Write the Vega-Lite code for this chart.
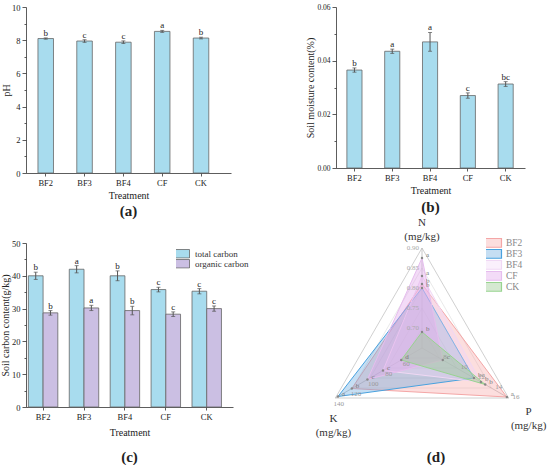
{
  "$schema": "https://vega.github.io/schema/vega-lite/v6.json",
  "padding": {"left": 0, "top": 3, "right": 0, "bottom": 0},
  "columns": 2,
  "spacing": {"row": 70, "column": 103},
  "bounds": "flush",
  "resolve": {"scale": {"fill": "independent", "stroke": "independent"}, "legend": {"fill": "independent", "stroke": "independent"}},
  "config": {
    "font": "Liberation Serif",
    "view": {"stroke": null},
    "axis": {"domainColor": "#333", "tickColor": "#333", "labelColor": "#222", "titleColor": "#222", "labelFontSize": 8.5, "titleFontSize": 10, "titleFontWeight": "normal", "labelFont": "Liberation Serif", "titleFont": "Liberation Serif", "grid": false, "domainWidth": 0.8, "tickWidth": 0.8, "labelOverlap": false},
    "legend": {"labelFont": "Liberation Serif"},
    "title": {"font": "Liberation Serif", "fontSize": 15, "fontWeight": "bold", "color": "#222"}
  },
  "datasets": {
    "ph": [
      {"treatment": "BF2", "pH": 8.1, "sd": 0.04, "letter": "b"},
      {"treatment": "BF3", "pH": 7.95, "sd": 0.08, "letter": "c"},
      {"treatment": "BF4", "pH": 7.88, "sd": 0.08, "letter": "c"},
      {"treatment": "CF", "pH": 8.53, "sd": 0.06, "letter": "a"},
      {"treatment": "CK", "pH": 8.13, "sd": 0.05, "letter": "b"}
    ],
    "moisture": [
      {"treatment": "BF2", "m": 0.0365, "sd": 0.0008, "letter": "b"},
      {"treatment": "BF3", "m": 0.0435, "sd": 0.0008, "letter": "a"},
      {"treatment": "BF4", "m": 0.047, "sd": 0.0035, "letter": "a"},
      {"treatment": "CF", "m": 0.027, "sd": 0.001, "letter": "c"},
      {"treatment": "CK", "m": 0.0313, "sd": 0.0009, "letter": "bc"}
    ],
    "carbon": [
      {"treatment": "BF2", "type": "total carbon", "value": 40.0, "sd": 1.1, "letter": "b"},
      {"treatment": "BF3", "type": "total carbon", "value": 42.0, "sd": 1.1, "letter": "a"},
      {"treatment": "BF4", "type": "total carbon", "value": 40.0, "sd": 1.5, "letter": "b"},
      {"treatment": "CF", "type": "total carbon", "value": 35.8, "sd": 0.7, "letter": "c"},
      {"treatment": "CK", "type": "total carbon", "value": 35.3, "sd": 0.8, "letter": "c"},
      {"treatment": "BF2", "type": "organic carbon", "value": 28.7, "sd": 0.7, "letter": "b"},
      {"treatment": "BF3", "type": "organic carbon", "value": 30.2, "sd": 0.8, "letter": "a"},
      {"treatment": "BF4", "type": "organic carbon", "value": 29.4, "sd": 1.3, "letter": "b"},
      {"treatment": "CF", "type": "organic carbon", "value": 28.3, "sd": 0.7, "letter": "c"},
      {"treatment": "CK", "type": "organic carbon", "value": 30.0, "sd": 0.8, "letter": "c"}
    ],
    "radar": [
      {"series": "BF2", "axis": "N", "value": 0.81, "letter": "b"},
      {"series": "BF2", "axis": "P", "value": 15.8, "letter": "a"},
      {"series": "BF2", "axis": "K", "value": 121, "letter": "b"},
      {"series": "BF3", "axis": "N", "value": 0.80, "letter": "b"},
      {"series": "BF3", "axis": "P", "value": 12.0, "letter": "bc"},
      {"series": "BF3", "axis": "K", "value": 137, "letter": "a"},
      {"series": "BF4", "axis": "N", "value": 0.83, "letter": "a"},
      {"series": "BF4", "axis": "P", "value": 12.8, "letter": "b"},
      {"series": "BF4", "axis": "K", "value": 85, "letter": "c"},
      {"series": "CF", "axis": "N", "value": 0.875, "letter": "a"},
      {"series": "CF", "axis": "P", "value": 8.4, "letter": "c"},
      {"series": "CF", "axis": "K", "value": 103, "letter": "c"},
      {"series": "CK", "axis": "N", "value": 0.69, "letter": "b"},
      {"series": "CK", "axis": "P", "value": 13.3, "letter": "b"},
      {"series": "CK", "axis": "K", "value": 64, "letter": "d"}
    ],
    "ticks": [
      {"axis": "N", "value": 0.70}, {"axis": "N", "value": 0.75}, {"axis": "N", "value": 0.80}, {"axis": "N", "value": 0.85}, {"axis": "N", "value": 0.90},
      {"axis": "P", "value": 8}, {"axis": "P", "value": 10}, {"axis": "P", "value": 12}, {"axis": "P", "value": 14}, {"axis": "P", "value": 16},
      {"axis": "K", "value": 60}, {"axis": "K", "value": 80}, {"axis": "K", "value": 100}, {"axis": "K", "value": 120}, {"axis": "K", "value": 140}
    ]
  },
  "concat": [
    {
      "width": 205, "height": 166,
      "data": {"name": "ph"},
      "transform": [{"calculate": "datum.pH + datum.sd", "as": "top"}],
      "title": {"text": "(a)", "orient": "bottom", "offset": 3},
      "encoding": {
        "x": {"field": "treatment", "type": "nominal", "title": "Treatment",
              "scale": {"paddingInner": 0.6, "paddingOuter": 0.44, "align": 0.35},
              "axis": {"labelAngle": 0, "tickSize": 3, "labelPadding": 2, "titlePadding": 4}}
      },
      "layer": [
        {"mark": {"type": "bar", "fill": "#a8dcee", "stroke": "#666", "strokeWidth": 0.8},
         "encoding": {"y": {"field": "pH", "type": "quantitative", "title": "pH", "scale": {"domain": [0, 10], "nice": false},
           "axis": {"values": [0,1,2,3,4,5,6,7,8,9,10], "tickCount": 50, "format": "d", "labelExpr": "datum.value % 2 === 0 ? datum.label : ''", "labelOverlap": false,
                    "tickSize": {"condition": {"test": "datum.value % 2 === 0", "value": 4}, "value": 2}, "titlePadding": 0}}}},
        {"mark": {"type": "errorbar", "ticks": {"size": 4}, "color": "#555"},
         "encoding": {"y": {"field": "pH", "type": "quantitative", "title": "pH"}, "yError": {"field": "sd"}}},
        {"mark": {"type": "text", "dy": -5, "fontSize": 9, "color": "#222"},
         "encoding": {"y": {"field": "top", "type": "quantitative", "title": "pH"}, "text": {"field": "letter"}}}
      ]
    },
    {
      "width": 189, "height": 161,
      "data": {"name": "moisture"},
      "transform": [{"calculate": "datum.m + datum.sd", "as": "top"}],
      "title": {"text": "(b)", "orient": "bottom", "offset": 4},
      "encoding": {
        "x": {"field": "treatment", "type": "nominal", "title": "Treatment",
              "scale": {"paddingInner": 0.6, "paddingOuter": 0.3, "align": 0.48},
              "axis": {"labelAngle": 0, "tickSize": 3, "labelPadding": 2, "titlePadding": 4}}
      },
      "layer": [
        {"mark": {"type": "bar", "fill": "#a8dcee", "stroke": "#666", "strokeWidth": 0.8},
         "encoding": {"y": {"field": "m", "type": "quantitative", "title": "Soil moisture content(%)", "scale": {"domain": [0, 0.06], "nice": false},
           "axis": {"values": [0,0.01,0.02,0.03,0.04,0.05,0.06], "tickCount": 50, "format": ".2f", "labelExpr": "round(datum.value*100) % 2 === 0 ? datum.label : ''", "labelOverlap": false,
                    "labelFontSize": 7.5, "tickSize": {"condition": {"test": "round(datum.value*100) % 2 === 0", "value": 4}, "value": 2}, "titlePadding": 1}}}},
        {"mark": {"type": "errorbar", "ticks": {"size": 4}, "color": "#555"},
         "encoding": {"y": {"field": "m", "type": "quantitative", "title": "Soil moisture content(%)"}, "yError": {"field": "sd"}}},
        {"mark": {"type": "text", "dy": -5, "fontSize": 9, "color": "#222"},
         "encoding": {"y": {"field": "top", "type": "quantitative", "title": "Soil moisture content(%)"}, "text": {"field": "letter"}}}
      ]
    },
    {
      "width": 207, "height": 164,
      "data": {"name": "carbon"},
      "transform": [{"calculate": "datum.value + datum.sd", "as": "top"}],
      "title": {"text": "(c)", "orient": "bottom", "offset": 12},
      "encoding": {
        "x": {"field": "treatment", "type": "nominal", "title": "Treatment",
              "scale": {"paddingInner": 0.28, "paddingOuter": 0.17, "align": 0.17},
              "axis": {"labelAngle": 0, "tickSize": 3, "labelPadding": 2, "titlePadding": 7}},
        "xOffset": {"field": "type", "type": "nominal", "scale": {"domain": ["total carbon", "organic carbon"], "paddingInner": 0, "paddingOuter": 0}}
      },
      "layer": [
        {"mark": {"type": "bar", "stroke": "#666", "strokeWidth": 0.8},
         "encoding": {
           "y": {"field": "value", "type": "quantitative", "title": "Soil carbon content(g/kg)", "scale": {"domain": [0, 50], "nice": false},
             "axis": {"values": [0,5,10,15,20,25,30,35,40,45,50], "tickCount": 50, "format": "d", "labelExpr": "datum.value % 10 === 0 ? datum.label : ''", "labelOverlap": false,
                      "tickSize": {"condition": {"test": "datum.value % 10 === 0", "value": 4}, "value": 2}, "titlePadding": 1}},
           "fill": {"field": "type", "type": "nominal", "scale": {"domain": ["total carbon", "organic carbon"], "range": ["#a8dcee", "#cbbfe3"]},
             "legend": {"orient": "none", "legendX": 150, "legendY": 6, "title": null, "symbolType": "M-1.89,-0.94H1.89V0.94H-1.89Z", "symbolSize": 81,
                        "symbolStrokeColor": "#666", "symbolStrokeWidth": 0.8, "labelFontSize": 9, "labelColor": "#333", "rowPadding": 0, "clipHeight": 9.5, "labelOffset": 9}}
         }},
        {"mark": {"type": "errorbar", "ticks": {"size": 4}, "color": "#555"},
         "encoding": {"y": {"field": "value", "type": "quantitative", "title": "Soil carbon content(g/kg)"}, "yError": {"field": "sd"}}},
        {"mark": {"type": "text", "dy": -5, "fontSize": 9, "color": "#222"},
         "encoding": {"y": {"field": "top", "type": "quantitative", "title": "Soil carbon content(g/kg)"}, "text": {"field": "letter"}}}
      ]
    },
    {
      "width": 200, "height": 190,
      "title": {"text": "(d)", "orient": "bottom", "offset": 12},
      "encoding": {
        "x": {"field": "px", "type": "quantitative", "scale": {"domain": [-0.86, 1.14], "nice": false, "zero": false}, "axis": null},
        "y": {"field": "py", "type": "quantitative", "scale": {"domain": [-0.85, 1.05], "nice": false, "zero": false}, "axis": null}
      },
      "layer": [
        {"data": {"name": "ticks"},
         "transform": [
           {"calculate": "datum.axis==='N' ? (datum.value-0.65)/0.25 : datum.axis==='P' ? (datum.value-6)/10 : (datum.value-40)/100", "as": "r"},
           {"calculate": "datum.axis==='N' ? PI/2 : datum.axis==='P' ? -PI/6 : 7*PI/6", "as": "a"},
           {"calculate": "datum.r*cos(datum.a)", "as": "px"},
           {"calculate": "datum.r*sin(datum.a)", "as": "py"},
           {"calculate": "round(datum.r*5)", "as": "lvl"},
           {"filter": "datum.lvl < 5"}
         ],
         "mark": {"type": "line", "interpolate": "linear-closed", "stroke": "#e0e0e0", "strokeWidth": 0.7},
         "encoding": {"detail": {"field": "lvl", "type": "nominal"}}},
        {"data": {"name": "ticks"},
         "transform": [
           {"calculate": "datum.axis==='N' ? (datum.value-0.65)/0.25 : datum.axis==='P' ? (datum.value-6)/10 : (datum.value-40)/100", "as": "r"},
           {"calculate": "datum.axis==='N' ? PI/2 : datum.axis==='P' ? -PI/6 : 7*PI/6", "as": "a"},
           {"calculate": "datum.r*cos(datum.a)", "as": "px"},
           {"calculate": "datum.r*sin(datum.a)", "as": "py"},
           {"calculate": "round(datum.r*5)", "as": "lvl"},
           {"filter": "datum.lvl === 5"}
         ],
         "layer": [
           {"mark": {"type": "line", "interpolate": "linear-closed", "stroke": "#c4c4c4", "strokeWidth": 0.8}, "encoding": {}},
           {"mark": {"type": "rule", "stroke": "#b0b0b0", "strokeWidth": 0.7}, "encoding": {"x2": {"datum": 0}, "y2": {"datum": 0}}}
         ]},
        {"data": {"name": "radar"},
         "transform": [
           {"calculate": "datum.axis==='N' ? (datum.value-0.65)/0.25 : datum.axis==='P' ? (datum.value-6)/10 : (datum.value-40)/100", "as": "r"},
           {"calculate": "datum.axis==='N' ? PI/2 : datum.axis==='P' ? -PI/6 : 7*PI/6", "as": "a"},
           {"calculate": "datum.r*cos(datum.a)", "as": "px"},
           {"calculate": "datum.r*sin(datum.a)", "as": "py"}
         ],
         "layer": [
           {"mark": {"type": "line", "interpolate": "linear-closed", "strokeWidth": 1},
            "encoding": {
              "fill": {"field": "series", "type": "nominal",
                "scale": {"domain": ["BF2", "BF3", "BF4", "CF", "CK"], "range": ["rgba(246,160,160,0.35)", "rgba(90,160,220,0.35)", "rgba(240,212,246,0.35)", "rgba(226,165,236,0.4)", "rgba(150,200,140,0.4)"]},
                "legend": {"orient": "none", "legendX": 150, "legendY": -5, "title": null, "symbolType": "M-2.06,-0.93H2.06V0.93H-2.06Z", "symbolSize": 94,
                           "labelFontSize": 9.5, "labelColor": "#888", "rowPadding": 0, "clipHeight": 9.7, "labelOffset": 9, "symbolStrokeWidth": 1.2}},
              "stroke": {"field": "series", "type": "nominal",
                "scale": {"domain": ["BF2", "BF3", "BF4", "CF", "CK"], "range": ["#f4a6a6", "#49a2df", "#f0d8f4", "#e6bdee", "#98d490"]}}
            }},
           {"mark": {"type": "point", "filled": true, "size": 6, "color": "#888", "opacity": 1}, "encoding": {}},
           {"mark": {"type": "text", "dx": 4, "dy": -3, "fontSize": 7, "color": "#777", "align": "left"}, "encoding": {"text": {"field": "letter"}}}
         ]},
        {"data": {"name": "ticks"},
         "transform": [
           {"calculate": "datum.axis==='N' ? (datum.value-0.65)/0.25 : datum.axis==='P' ? (datum.value-6)/10 : (datum.value-40)/100", "as": "r"},
           {"calculate": "datum.axis==='N' ? PI/2 : datum.axis==='P' ? -PI/6 : 7*PI/6", "as": "a"},
           {"calculate": "datum.r*cos(datum.a)", "as": "px"},
           {"calculate": "datum.r*sin(datum.a)", "as": "py"},
           {"calculate": "datum.axis==='N' ? format(datum.value, '.2f') : format(datum.value, 'd')", "as": "lab"}
         ],
         "layer": [
           {"transform": [{"filter": "datum.axis === 'N'"}],
            "mark": {"type": "text", "align": "right", "dx": -3, "fontSize": 7, "color": "#aaa"}, "encoding": {"text": {"field": "lab"}}},
           {"transform": [{"filter": "datum.axis === 'P'"}],
            "mark": {"type": "text", "align": "left", "dx": 4, "dy": -1, "fontSize": 7, "color": "#999"}, "encoding": {"text": {"field": "lab"}}},
           {"transform": [{"filter": "datum.axis === 'K'"}],
            "mark": {"type": "text", "align": "left", "dx": -2, "dy": 6, "fontSize": 7, "color": "#999"}, "encoding": {"text": {"field": "lab"}}},
           {"transform": [{"filter": "datum.axis === 'N' && datum.value > 0.89"}],
            "mark": {"type": "text", "text": ["N", "(mg/kg)"], "dy": -25, "fontSize": 11, "lineHeight": 14, "baseline": "middle", "color": "#333"}, "encoding": {}},
           {"transform": [{"filter": "datum.axis === 'K' && datum.value > 139"}],
            "mark": {"type": "text", "text": ["K", "(mg/kg)"], "dx": -2, "dy": 21, "fontSize": 11, "lineHeight": 14, "baseline": "middle", "color": "#333"}, "encoding": {}},
           {"transform": [{"filter": "datum.axis === 'P' && datum.value > 15"}],
            "mark": {"type": "text", "text": ["P", "(mg/kg)"], "dx": 20, "dy": 14, "fontSize": 11, "lineHeight": 14, "baseline": "middle", "color": "#333"}, "encoding": {}}
         ]}
      ]
    }
  ]
}
